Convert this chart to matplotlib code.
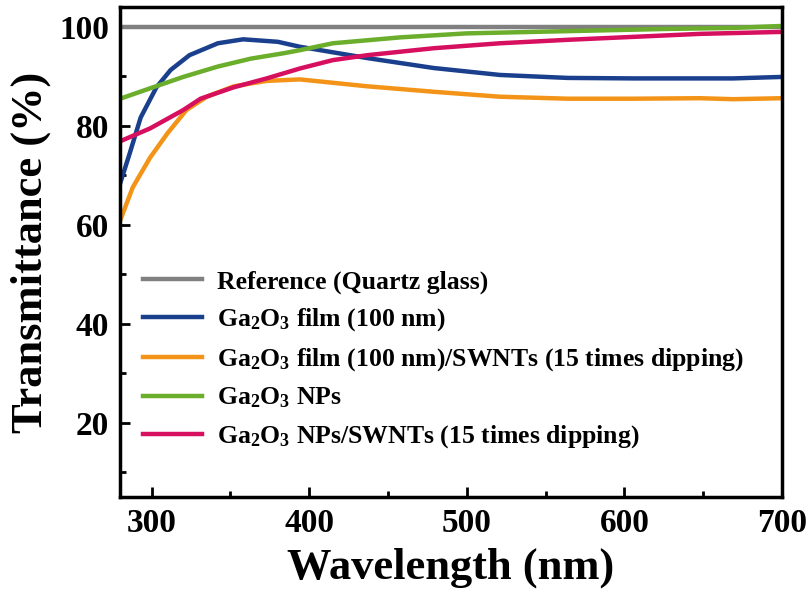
import matplotlib
matplotlib.use('Agg')
import matplotlib.pyplot as plt
from matplotlib.ticker import MultipleLocator

# font setup - Times-like bold everywhere
plt.rcParams['font.family'] = 'Liberation Serif'
plt.rcParams['font.weight'] = 'bold'
plt.rcParams['mathtext.fontset'] = 'custom'
plt.rcParams['mathtext.rm'] = 'Liberation Serif:bold'
plt.rcParams['mathtext.it'] = 'Liberation Serif:bold'
plt.rcParams['mathtext.bf'] = 'Liberation Serif:bold'

# data
ref_wl = [280, 700]
ref_t = [100, 100]

film_wl = [280, 286, 293, 303, 312, 324, 342, 358, 380, 394, 437, 479, 521, 564, 606, 669, 700]
film_t = [68.4, 74.4, 81.7, 87.8, 91.3, 94.3, 96.7, 97.5, 97.0, 96.0, 93.7, 91.7, 90.3, 89.7, 89.6, 89.6, 89.9]

film_swnt_wl = [280, 288, 299, 310, 322, 335, 352, 373, 394, 437, 479, 521, 564, 606, 648, 669, 700]
film_swnt_t = [60.9, 67.6, 73.6, 78.5, 83.2, 85.9, 88.0, 89.1, 89.4, 88.0, 86.9, 85.9, 85.5, 85.5, 85.6, 85.4, 85.6]

nps_wl = [280, 299, 320, 342, 363, 384, 394, 415, 458, 500, 542, 585, 627, 669, 700]
nps_t = [85.5, 87.6, 89.9, 92.0, 93.6, 94.7, 95.3, 96.7, 97.9, 98.7, 99.0, 99.3, 99.6, 99.8, 100.2]

nps_swnt_wl = [280, 299, 320, 331, 352, 373, 394, 415, 437, 479, 521, 564, 606, 648, 700]
nps_swnt_t = [76.9, 79.5, 83.2, 85.5, 87.8, 89.6, 91.6, 93.3, 94.3, 95.7, 96.7, 97.4, 98.0, 98.6, 99.0]

labels = ['Reference (Quartz glass)',
          'Ga$_2$O$_3$ film (100 nm)',
          'Ga$_2$O$_3$ film (100 nm)/SWNTs (15 times dipping)',
          'Ga$_2$O$_3$ NPs',
          'Ga$_2$O$_3$ NPs/SWNTs (15 times dipping)']
colors = ['#808080', '#1a3f8c', '#f39418', '#6aae2c', '#d60f5f']

fig = plt.figure(figsize=(8.12, 5.96), dpi=100)
ax = fig.add_axes([0.148, 0.166, 0.815, 0.822])

series = [(ref_wl, ref_t), (film_wl, film_t), (film_swnt_wl, film_swnt_t),
          (nps_wl, nps_t), (nps_swnt_wl, nps_swnt_t)]
for (x, y), lab, c in zip(series, labels, colors):
    ax.plot(x, y, color=c, lw=3.2, label=lab)

ax.set_xlim(280, 700)
ax.set_ylim(5, 104)
ax.xaxis.set_major_locator(MultipleLocator(100))
ax.xaxis.set_minor_locator(MultipleLocator(50))
ax.yaxis.set_major_locator(MultipleLocator(20))
ax.yaxis.set_minor_locator(MultipleLocator(10))
ax.tick_params(which='major', direction='in', length=7, width=2, labelsize=24, pad=8)
ax.tick_params(which='minor', direction='in', length=4, width=2)
for s in ax.spines.values():
    s.set_linewidth(2.5)

ax.set_xlabel('Wavelength (nm)', fontsize=32, fontweight='bold', labelpad=6)
ax.set_ylabel('Transmittance (%)', fontsize=32, fontweight='bold', labelpad=6)

ax.legend(loc='upper left', bbox_to_anchor=(0.035, 0.463), frameon=False,
          borderpad=0, borderaxespad=0, handlelength=2.3, handletextpad=0.58,
          labelspacing=0.5, prop={'size': 18.5, 'weight': 'bold'})

fig.savefig('out.png', dpi=100)
